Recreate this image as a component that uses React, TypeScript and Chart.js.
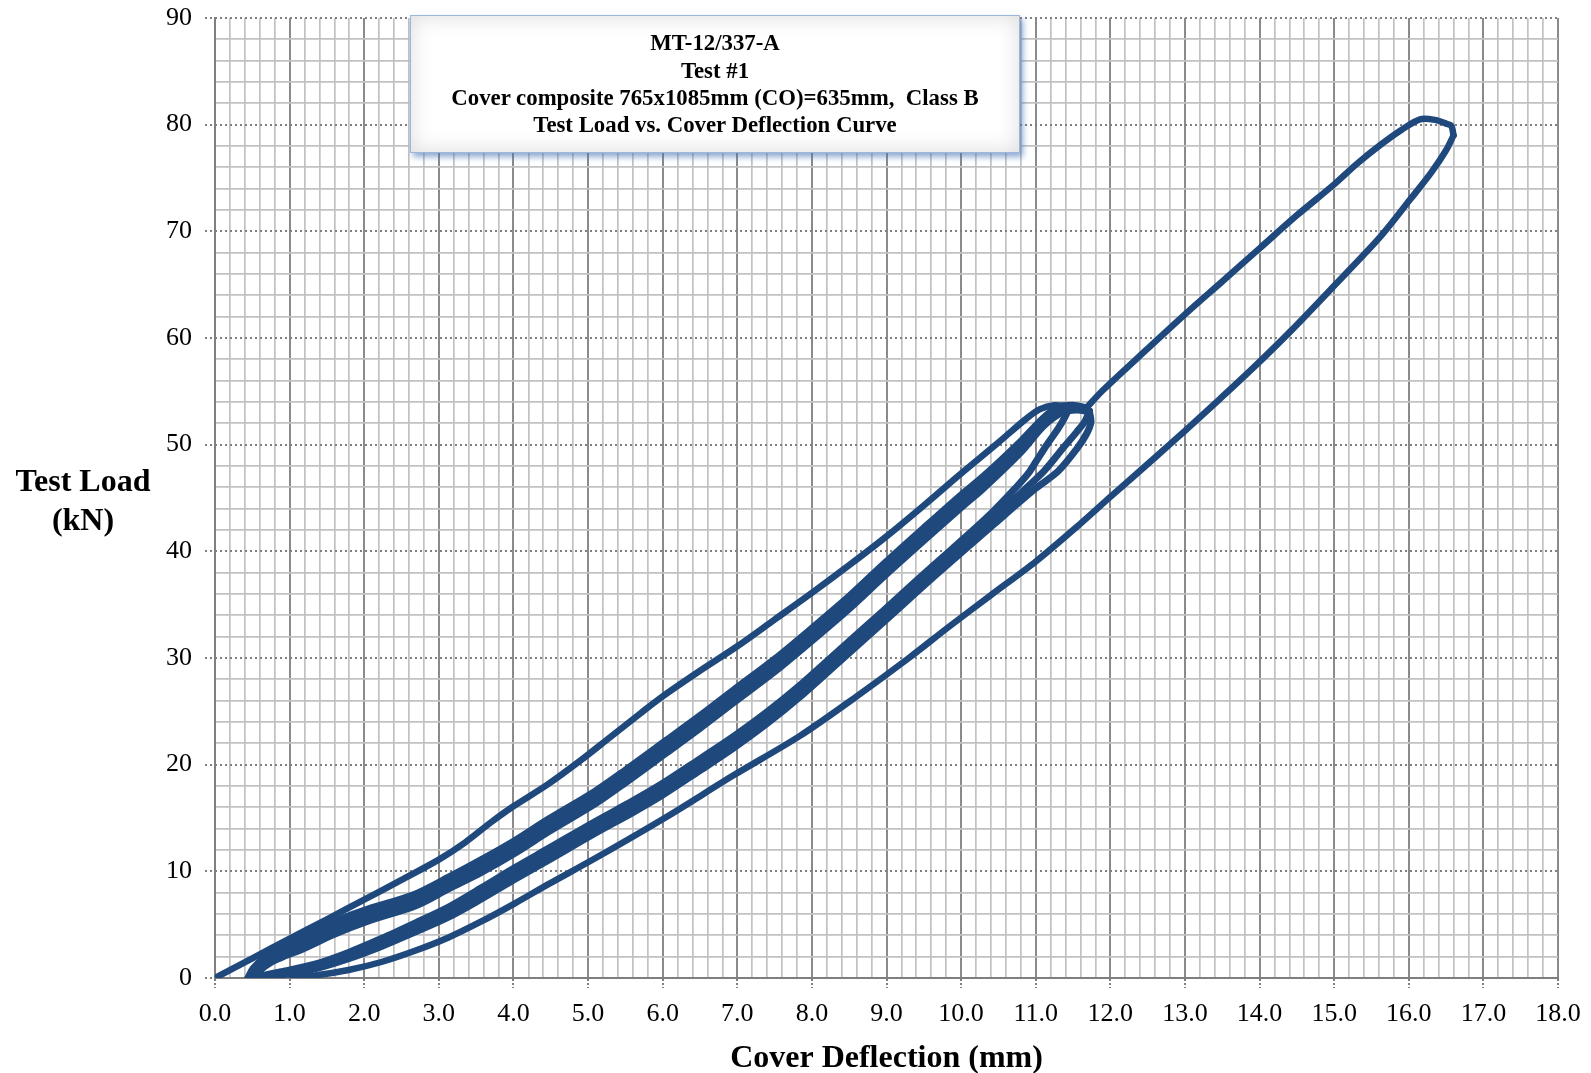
import React, { useEffect, useRef } from 'react';
import { Chart, registerables } from 'chart.js';

Chart.register(...registerables);

type Pt = [number, number];

// ---- Data (deflection mm, load kN) ----
const firstLoading: Pt[] = [
  [0, 0], [0.5, 1.85], [1.0, 3.7], [1.5, 5.5], [2.0, 7.35], [2.5, 9.2], [3.0, 11.1], [3.35, 12.7],
  [3.7, 14.6], [4.0, 16.1], [4.45, 18.1], [4.9, 20.4], [5.3, 22.6], [5.7, 24.8], [6.0, 26.4],
  [6.5, 28.8], [7.0, 31.1], [7.5, 33.6], [8.0, 36.1], [8.5, 38.7], [9.0, 41.4], [9.5, 44.3],
  [10.0, 47.3], [10.5, 50.2], [10.85, 52.3], [11.05, 53.3], [11.25, 53.7], [11.45, 53.55],
];

const unload1: Pt[] = [
  [11.45, 53.55], [11.4, 52.7], [11.3, 51.5], [11.15, 50.0], [11.02, 48.6], [10.9, 47.3],
  [10.75, 46.1], [10.4, 43.55], [9.85, 40.05], [9.4, 37.25], [8.96, 34.45], [8.4, 30.95],
  [7.84, 27.45], [7.4, 24.95], [6.95, 22.65], [6.5, 20.55], [6.0, 18.25], [5.61, 16.65],
  [5.09, 14.65], [4.47, 12.15], [4.02, 10.35], [3.57, 8.45], [3.13, 6.65], [2.68, 5.15],
  [2.23, 3.7], [1.79, 2.4], [1.34, 1.3], [0.89, 0.6], [0.62, 0.2], [0.47, 0],
];

const reload1: Pt[] = [
  [0.52, 0], [0.6, 0.7], [0.76, 1.5], [0.95, 2.1], [1.17, 2.7], [1.6, 4.1], [2.04, 5.3],
  [2.7, 6.8], [3.13, 8.35], [3.57, 9.9], [4.02, 11.7], [4.47, 13.7], [5.09, 16.3], [5.5, 18.3],
  [6.05, 21.1], [6.5, 23.4], [6.95, 25.8], [7.5, 28.7], [8.0, 31.6], [8.5, 34.6], [8.96, 37.6],
  [9.5, 41.0], [10.0, 44.1], [10.3, 45.9], [10.81, 49.35], [11.1, 51.7], [11.35, 53.0],
  [11.55, 53.25], [11.72, 53.1],
];

const unload2: Pt[] = [
  [11.72, 53.15], [11.66, 52.2], [11.55, 51.2], [11.38, 49.8], [11.12, 47.6], [10.85, 45.8],
  [10.4, 43.0], [9.85, 39.5], [9.4, 36.7], [8.96, 33.9], [8.4, 30.4], [7.84, 26.9], [7.4, 24.4],
  [6.95, 22.1], [6.5, 20.0], [6.0, 17.7], [5.61, 16.1], [5.09, 14.1], [4.47, 11.6], [4.02, 9.8],
  [3.57, 7.9], [3.13, 6.15], [2.68, 4.7], [2.23, 3.3], [1.79, 2.05], [1.34, 1.05], [0.89, 0.42],
  [0.65, 0.12], [0.5, 0],
];

const reload2: Pt[] = [
  [0.47, 0], [0.55, 0.8], [0.71, 1.7], [0.9, 2.4], [1.12, 3.1], [1.56, 4.6], [2.01, 5.8],
  [2.68, 7.3], [3.13, 8.9], [3.57, 10.5], [4.02, 12.3], [4.47, 14.3], [5.09, 16.9], [5.5, 18.9],
  [6.05, 21.7], [6.5, 24.0], [6.95, 26.4], [7.5, 29.3], [8.0, 32.2], [8.5, 35.2], [8.96, 38.2],
  [9.5, 41.6], [10.0, 44.7], [10.3, 46.5], [10.81, 49.9], [11.1, 52.1], [11.32, 53.3],
  [11.52, 53.5], [11.72, 53.15],
];

const unload3: Pt[] = [
  [11.72, 53.1], [11.74, 52.1], [11.68, 51.0], [11.55, 49.6], [11.3, 47.5], [11.0, 45.9],
  [10.45, 42.6], [9.85, 38.95], [9.4, 36.15], [8.96, 33.35], [8.4, 29.85], [7.84, 26.35],
  [7.4, 23.85], [6.95, 21.55], [6.5, 19.45], [6.0, 17.15], [5.61, 15.55], [5.09, 13.55],
  [4.47, 11.05], [4.02, 9.25], [3.57, 7.4], [3.13, 5.7], [2.68, 4.3], [2.23, 2.95], [1.79, 1.8],
  [1.34, 0.85], [0.89, 0.27], [0.7, 0.06], [0.56, 0],
];

const reload3: Pt[] = [
  [0.44, 0], [0.51, 0.9], [0.66, 1.9], [0.85, 2.7], [1.07, 3.45], [1.52, 5.05], [1.98, 6.3],
  [2.66, 7.8], [3.13, 9.45], [3.57, 11.1], [4.02, 12.9], [4.47, 14.9], [5.09, 17.5], [5.5, 19.5],
  [6.05, 22.3], [6.5, 24.6], [6.95, 27.0], [7.5, 29.9], [8.0, 32.8], [8.5, 35.8], [8.96, 38.8],
  [9.5, 42.2], [10.0, 45.3], [10.3, 47.05], [10.81, 50.4], [11.1, 52.5], [11.3, 53.5],
  [11.5, 53.7], [11.68, 53.45],
];

const finalLoading: Pt[] = [
  [11.68, 53.45], [11.9, 55.1], [12.5, 59.0], [13.03, 62.4], [13.5, 65.3], [14.0, 68.4],
  [14.5, 71.5], [15.0, 74.4], [15.3, 76.3], [15.62, 78.1], [15.9, 79.5], [16.15, 80.5],
  [16.35, 80.45], [16.5, 80.1], [16.57, 79.9], [16.6, 79.0],
];

const finalUnloading: Pt[] = [
  [16.6, 79.0], [16.5, 77.6], [16.3, 75.5], [16.02, 73.0], [15.62, 69.5], [15.0, 64.9],
  [14.41, 60.6], [13.9, 57.1], [13.47, 54.3], [13.0, 51.3], [12.6, 48.8], [12.0, 45.1],
  [11.6, 42.6], [11.01, 39.1], [10.4, 35.9], [9.85, 33.0], [9.3, 30.0], [8.6, 26.4], [7.84, 22.7],
  [6.95, 19.0], [6.05, 15.1], [5.09, 11.2], [4.47, 8.8], [4.02, 7.0], [3.57, 5.3], [3.13, 3.8],
  [2.68, 2.55], [2.23, 1.5], [1.79, 0.75], [1.3, 0.2], [1.03, 0],
];

const singleCurves: Pt[][] = [firstLoading, finalLoading, finalUnloading];
const cycleCurves: Pt[][] = [unload1, reload1, unload2, reload2, unload3, reload3];

// ---- Axes ----
const X_MIN = 0;
const X_MAX = 18;
const X_MINOR_STEP = 0.2;
const X_MAJOR_STEP = 1;
const Y_MIN = 0;
const Y_MAX = 90;
const Y_MINOR_STEP = 2;
const Y_MAJOR_STEP = 10;

// ---- Text ----
const titleLines = [
  'MT-12/337-A',
  'Test #1',
  'Cover composite 765x1085mm (CO)=635mm,  Class B',
  'Test Load vs. Cover Deflection Curve',
];
const xAxisTitle = 'Cover Deflection (mm)';
const yAxisTitleLines = ['Test Load', '(kN)'];

const LINE_COLOR = '#1f497d';
const FONT = '"Liberation Serif", "Times New Roman", serif';
const MINOR_GRID = '#c2c2c2';
const MAJOR_GRID = '#8a8a8a';

const isMultiple = (v: number, step: number) => {
  const r = v / step;
  return Math.abs(r - Math.round(r)) < 1e-6;
};

const majorLinesPlugin = {
  id: 'majorLines',
  beforeDatasetsDraw(chart: any) {
    const { ctx, chartArea, scales } = chart;
    const xs = scales.x;
    const ys = scales.y;
    ctx.save();
    ctx.strokeStyle = '#7f7f7f';
    ctx.lineWidth = 2;
    ctx.setLineDash([2, 3]);
    for (let v = Y_MIN; v <= Y_MAX + 1e-9; v += Y_MAJOR_STEP) {
      const py = Math.round(ys.getPixelForValue(v));
      ctx.beginPath();
      ctx.moveTo(chartArea.left - 10, py);
      ctx.lineTo(v === Y_MIN ? chartArea.left : chartArea.right, py);
      ctx.stroke();
    }
    ctx.setLineDash([2, 2]);
    for (let v = X_MIN; v <= X_MAX + 1e-9; v += X_MAJOR_STEP) {
      const px = Math.round(xs.getPixelForValue(v));
      ctx.beginPath();
      ctx.moveTo(px, chartArea.bottom + 1);
      ctx.lineTo(px, chartArea.bottom + 10);
      ctx.stroke();
    }
    ctx.restore();
  },
};

const makeDataset = (c: Pt[], width: number) => ({
  data: c.map(([x, y]) => ({ x, y })),
  borderColor: LINE_COLOR,
  backgroundColor: LINE_COLOR,
  borderWidth: width,
  showLine: true,
  pointRadius: 0,
  tension: 0.3,
  fill: false,
  borderCapStyle: 'round',
  borderJoinStyle: 'round',
});

function LoadDeflectionChart() {
  const canvasRef = useRef<HTMLCanvasElement | null>(null);

  useEffect(() => {
    const canvas = canvasRef.current;
    if (!canvas) return;
    const chart = new Chart(canvas, {
      type: 'scatter',
      data: {
        datasets: [
          ...cycleCurves.map((c) => makeDataset(c, 7)),
          ...singleCurves.map((c) => makeDataset(c, 6.5)),
        ],
      } as any,
      options: {
        animation: false,
        responsive: false,
        events: [],
        layout: { padding: { left: 0, right: 33, top: 18, bottom: 0 } },
        plugins: {
          legend: { display: false },
          tooltip: { enabled: false },
          title: { display: false },
        },
        scales: {
          x: {
            type: 'linear',
            min: X_MIN,
            max: X_MAX,
            afterFit: (s: any) => {
              s.height = 95;
              s.paddingLeft = 0;
              s.paddingRight = 0;
            },
            ticks: {
              stepSize: X_MINOR_STEP,
              autoSkip: false,
              maxRotation: 0,
              minRotation: 0,
              padding: 21,
              color: '#000',
              font: { family: FONT, size: 26 },
              callback: (v: any) => (isMultiple(Number(v), X_MAJOR_STEP) ? Number(v).toFixed(1) : ''),
            },
            grid: {
              drawTicks: false,
              color: (ctx: any) => (ctx.tick && isMultiple(ctx.tick.value, X_MAJOR_STEP) ? MAJOR_GRID : MINOR_GRID),
              lineWidth: (ctx: any) => (ctx.tick && isMultiple(ctx.tick.value, X_MAJOR_STEP) ? 2 : 1.7),
            },
            border: { color: '#7f7f7f', width: 2 },
            title: {
              display: true,
              text: xAxisTitle,
              color: '#000',
              font: { family: FONT, size: 32, weight: 'bold', lineHeight: 0.9 },
              padding: { top: 0, bottom: 0 },
            },
          },
          y: {
            type: 'linear',
            min: Y_MIN,
            max: Y_MAX,
            afterFit: (s: any) => {
              s.width = 215;
              s.paddingTop = 0;
              s.paddingBottom = 0;
            },
            ticks: {
              stepSize: Y_MINOR_STEP,
              autoSkip: false,
              padding: 23,
              color: '#000',
              font: { family: FONT, size: 26 },
              callback: (v: any) => (isMultiple(Number(v), Y_MAJOR_STEP) ? String(v) : ''),
            },
            grid: {
              drawTicks: false,
              color: (ctx: any) =>
                ctx.tick && isMultiple(ctx.tick.value, Y_MAJOR_STEP) ? 'rgba(0,0,0,0)' : MINOR_GRID,
              lineWidth: 1.7,
            },
            border: { color: '#7f7f7f', width: 2 },
          },
        },
      } as any,
      plugins: [majorLinesPlugin],
    });
    return () => chart.destroy();
  }, []);

  return (
    <div style={{ position: 'absolute', left: 0, top: 0, width: 1591, height: 1073, background: '#fff' }}>
      <canvas ref={canvasRef} width={1591} height={1073} style={{ width: 1591, height: 1073, display: 'block' }} />
      <div
        style={{
          position: 'absolute',
          left: 0,
          top: 461,
          width: 166,
          textAlign: 'center',
          fontFamily: FONT,
          fontWeight: 'bold',
          fontSize: 32,
          lineHeight: '39px',
          color: '#000',
        }}
      >
        {yAxisTitleLines.map((t) => (
          <div key={t}>{t}</div>
        ))}
      </div>
      <div
        style={{
          position: 'absolute',
          left: 410,
          top: 15,
          width: 610,
          height: 138,
          boxSizing: 'border-box',
          background: '#ffffff',
          border: '1.5px solid #9bb7dc',
          boxShadow: '3px 4px 6px rgba(70,115,180,0.6), inset 0 0 22px rgba(0,0,0,0.14)',
          display: 'flex',
          flexDirection: 'column',
          justifyContent: 'center',
          alignItems: 'center',
          fontFamily: FONT,
          fontWeight: 'bold',
          fontSize: 22.8,
          lineHeight: '27.3px',
          color: '#000',
        }}
      >
        {titleLines.map((t) => (
          <div key={t} style={{ whiteSpace: 'pre' }}>
            {t}
          </div>
        ))}
      </div>
    </div>
  );
}

export default function App() {
  return <LoadDeflectionChart />;
}
